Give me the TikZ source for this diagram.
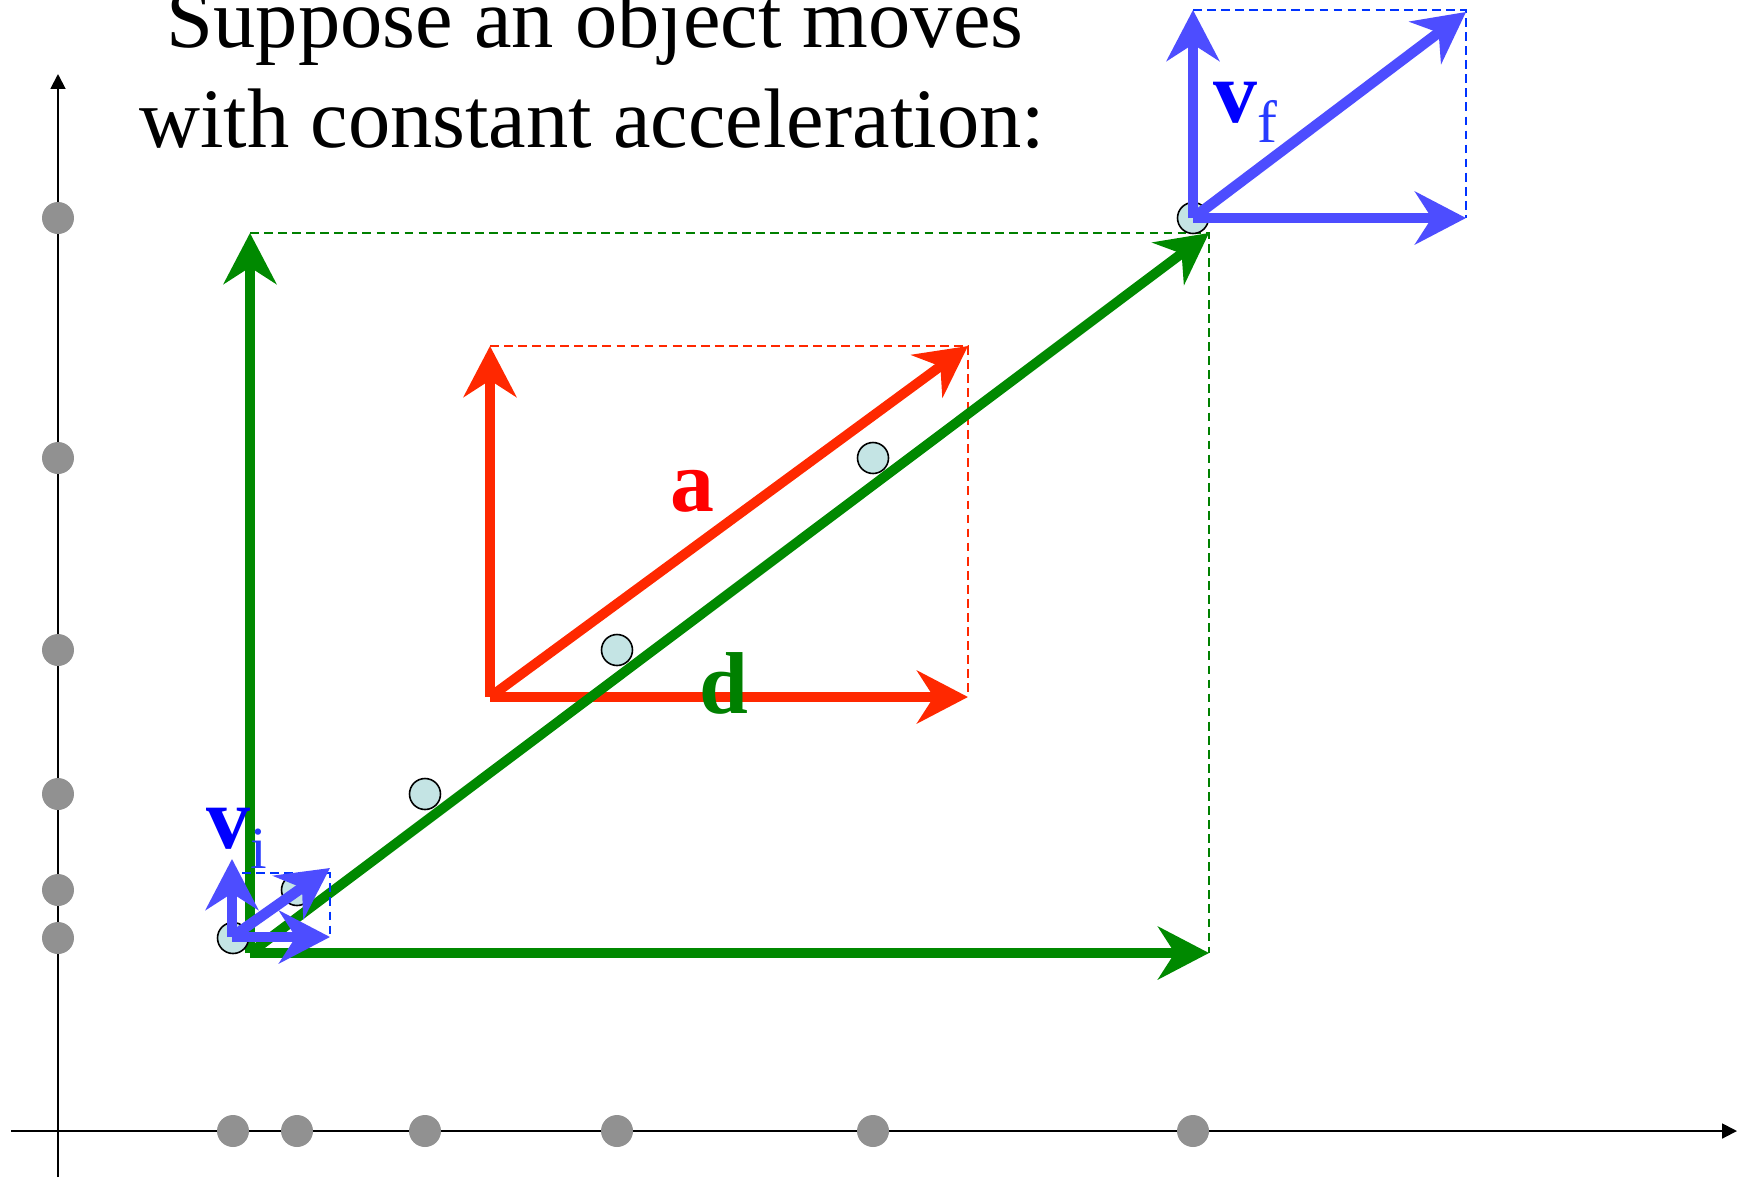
\documentclass[tikz,border=0pt]{standalone}
\usepackage{fontspec}
\setmainfont{Liberation Serif}
\usepackage{xcolor}
\usetikzlibrary{arrows.meta}
\definecolor{accgreen}{RGB}{0,137,0}
\definecolor{labgreen}{RGB}{0,128,0}
\definecolor{accred}{RGB}{255,40,0}
\definecolor{labred}{RGB}{255,0,0}
\definecolor{velblue}{RGB}{77,77,255}
\definecolor{labblue}{RGB}{0,0,255}
\definecolor{subblue}{RGB}{40,60,255}
\definecolor{boxblue}{RGB}{0,51,255}
\definecolor{dotgray}{RGB}{145,145,145}
\definecolor{ballfill}{RGB}{196,228,228}

\tikzset{
  vec/.style={line width=5.6pt,-{Stealth[length=29pt,width=30pt,inset=9.5pt]}},
  guide/.style={line width=1.1pt,dash pattern=on 5pt off 3pt},
  ball/.style={circle,draw=black,line width=0.9pt,fill=ballfill,minimum size=0.62cm,inner sep=0pt},
  axdot/.style={circle,fill=dotgray,minimum size=0.64cm,inner sep=0pt},
  lab/.style={inner sep=0pt,font=\fontsize{50}{50}\selectfont\bfseries},
  headline/.style={anchor=base,inner sep=0pt,font=\fontsize{48.1}{48.1}\selectfont},
}

\begin{document}
\begin{tikzpicture}[x=0.02cm,y=-0.02cm]
\useasboundingbox (0,0) rectangle (1748,1177);
% title
\node[headline] (title1) at (595,47) {Suppose an object moves};
\node[headline] (title2) at (592,147) {with constant acceleration:};
% axes
\coordinate (xstart) at (11,1131);
\coordinate (xend) at (1737,1131);
\coordinate (ystart) at (58,1177);
\coordinate (yend) at (58,74);
\draw[line width=1.1pt,-{Triangle[length=8.5pt,width=8.5pt]}] (xstart) -- (xend);
\draw[line width=1.1pt,-{Triangle[length=8.5pt,width=8.5pt]}] (ystart) -- (yend);
% positions projected on both axes
\foreach \px/\py [count=\k] in {233/938,297/890,425/794,617/650,873/458,1193/218}{
  \node[axdot] (xd\k) at (\px,1131) {};
  \node[axdot] (yd\k) at (58,\py) {};
}
% acceleration
\coordinate (a0) at (490,697);
\coordinate (ax) at (968,697);
\coordinate (ay) at (490,346);
\coordinate (axy) at (968,346);
\draw[guide,accred] (ay) -- (axy) -- (ax);
\draw[vec,accred] (a0) -- (ay);
\draw[vec,accred] (a0) -- (ax);
\draw[vec,accred] (a0) -- (axy);
% displacement
\coordinate (d0) at (250,953);
\coordinate (dx) at (1209,953);
\coordinate (dy) at (250,233);
\coordinate (dxy) at (1209,233);
\draw[guide,labgreen] (dy) -- (dxy) -- (dx);
\draw[vec,accgreen] (d0) -- (dy);
\draw[vec,accgreen] (d0) -- (dx);
\draw[vec,accgreen] (d0) -- (dxy);
% the object at equal time steps
\foreach \px/\py [count=\k] in {233/938,297/890,425/794,617/650,873/458,1193/218}{
  \node[ball] (b\k) at (\px,\py) {};
}
% initial velocity
\coordinate (i0) at (232,937);
\coordinate (ix) at (330,937);
\coordinate (iy) at (232,859);
\coordinate (ibox) at (242,873);
\coordinate (icorner) at (330,873);
\coordinate (ixy) at (330,868);
\draw[guide,boxblue] (ibox) -- (icorner) -- (ix);
\draw[vec,velblue,line width=6pt] (i0) -- (iy);
\draw[vec,velblue,line width=6pt] (i0) -- (ix);
\draw[vec,velblue,line width=6pt] (i0) -- (ixy);
% final velocity
\coordinate (f0) at (1193,218);
\coordinate (fx) at (1466,218);
\coordinate (fy) at (1193,10);
\coordinate (fxy) at (1466,12);
\draw[guide,boxblue] (fy) -- (1466,10) -- (fx);
\draw[vec,velblue,line width=6pt] (f0) -- (fy);
\draw[vec,velblue,line width=6pt] (f0) -- (fx);
\draw[vec,velblue,line width=6pt] (f0) -- (fxy);
% labels
\node[lab,anchor=base,text=labred] (alab) at (692,511) {a};
\node[lab,anchor=base,text=labgreen] (dlab) at (724,713) {d};
\node[lab,anchor=base west,text=labblue] (vilab) at (206,848)
  {v\raisebox{-0.4cm}{\color{subblue}\mdseries\fontsize{34}{34}\selectfont i}};
\node[lab,anchor=base west,text=labblue] (vflab) at (1213,122)
  {v\raisebox{-0.42cm}{\color{subblue}\mdseries\fontsize{34}{34}\selectfont f}};
\end{tikzpicture}
\end{document}
